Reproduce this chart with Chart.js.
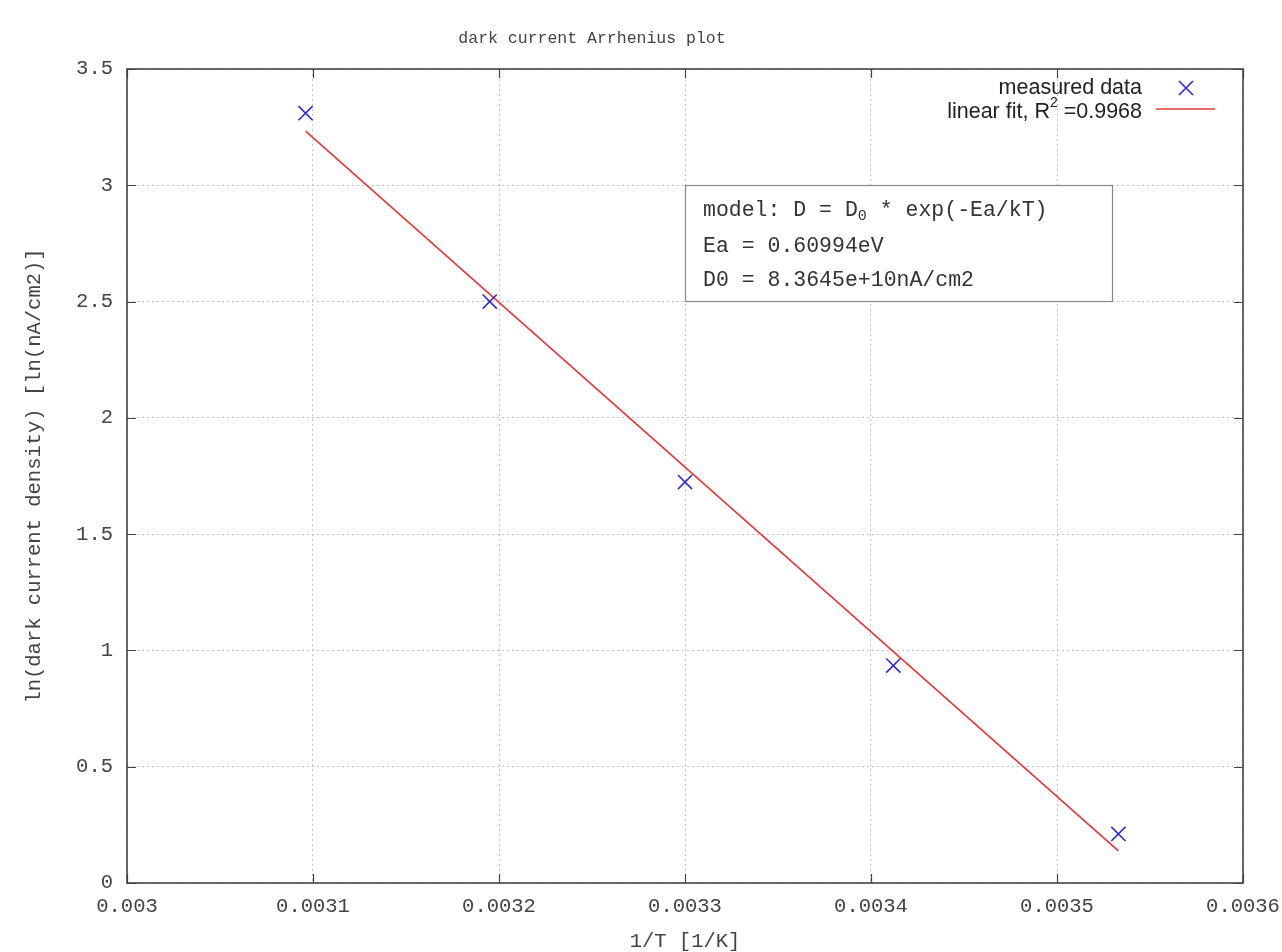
<!DOCTYPE html>
<html>
<head>
<meta charset="utf-8">
<title>dark current Arrhenius plot</title>
<script src="https://cdn.jsdelivr.net/npm/chart.js@4/dist/chart.umd.min.js"></script>
<style>
  html, body { margin: 0; padding: 0; background: #fff; }
  #wrap { width: 1282px; height: 952px; }
</style>
</head>
<body>
<div id="wrap"><canvas id="chart"></canvas></div>
<script>
// measured points (1/T in 1/K, ln of dark current density)
const invT = [0.003096, 0.003195, 0.0033, 0.003412, 0.003533];
const lnD = [3.31, 2.50, 1.724, 0.935, 0.211];

// linear fit, drawn between the first and last 1/T
const fitX = [0.003096, 0.003533];
const fitY = [3.233, 0.138];

const xTicks = [0.003, 0.0031, 0.0032, 0.0033, 0.0034, 0.0035, 0.0036];
const yTicks = [0, 0.5, 1, 1.5, 2, 2.5, 3, 3.5];

const MONO = '"Liberation Mono", "DejaVu Sans Mono", monospace';
const SANS = '"Liberation Sans", Arial, sans-serif';
const TXT = '#444';

// gnuplot style box, mirrored ticks, title, key and label box
const gnuplotBits = {
  id: 'gnuplotBits',
  afterDatasetsDraw(chart) {
    const { ctx, chartArea: a, scales: { x, y } } = chart;
    ctx.save();

    // tick marks on all four sides
    ctx.strokeStyle = '#444';
    ctx.lineWidth = 1.2;
    ctx.beginPath();
    xTicks.forEach(v => {
      const px = Math.round(x.getPixelForValue(v)) + 0.5;
      ctx.moveTo(px, a.bottom); ctx.lineTo(px, a.bottom - 9);
      ctx.moveTo(px, a.top); ctx.lineTo(px, a.top + 9);
    });
    yTicks.forEach(v => {
      const py = Math.round(y.getPixelForValue(v)) + 0.5;
      ctx.moveTo(a.left, py); ctx.lineTo(a.left + 9, py);
      ctx.moveTo(a.right, py); ctx.lineTo(a.right - 9, py);
    });
    ctx.stroke();

    // border
    ctx.lineWidth = 1.6;
    ctx.strokeStyle = '#444';
    ctx.strokeRect(a.left, a.top, a.right - a.left, a.bottom - a.top);

    // title
    ctx.fillStyle = TXT;
    ctx.font = '16.5px ' + MONO;
    ctx.textAlign = 'center';
    ctx.textBaseline = 'middle';
    ctx.fillText('dark current Arrhenius plot', 592, 39);

    // key
    ctx.font = '21.5px ' + SANS;
    ctx.fillStyle = '#222';
    ctx.textAlign = 'right';
    ctx.fillText('measured data', 1142, 88);

    ctx.strokeStyle = '#2b2bd8';
    ctx.lineWidth = 1.6;
    ctx.beginPath();
    ctx.moveTo(1179, 81); ctx.lineTo(1193, 95);
    ctx.moveTo(1193, 81); ctx.lineTo(1179, 95);
    ctx.stroke();

    const tail = ' =0.9968';
    const wTail = ctx.measureText(tail).width;
    ctx.fillText(tail, 1142, 112);
    ctx.font = '14px ' + SANS;
    const wSup = ctx.measureText('2').width;
    ctx.fillText('2', 1142 - wTail, 103);
    ctx.font = '21.5px ' + SANS;
    ctx.fillText('linear fit, R', 1142 - wTail - wSup, 112);

    ctx.strokeStyle = '#e23b3b';
    ctx.lineWidth = 1.6;
    ctx.beginPath();
    ctx.moveTo(1156, 109); ctx.lineTo(1215, 109);
    ctx.stroke();

    // label box
    ctx.fillStyle = '#fff';
    ctx.fillRect(685, 185, 427, 116);
    ctx.strokeStyle = '#888';
    ctx.lineWidth = 1.2;
    ctx.strokeRect(685.5, 185.5, 427, 116);

    ctx.fillStyle = '#333';
    ctx.textAlign = 'left';
    ctx.font = '21.5px ' + MONO;
    const head = 'model: D = D';
    ctx.fillText(head, 703, 210);
    let cx = 703 + ctx.measureText(head).width;
    ctx.font = '15px ' + MONO;
    ctx.fillText('0', cx, 216);
    cx += ctx.measureText('0').width;
    ctx.font = '21.5px ' + MONO;
    ctx.fillText(' * exp(-Ea/kT)', cx, 210);
    ctx.fillText('Ea = 0.60994eV', 703, 246);
    ctx.fillText('D0 = 8.3645e+10nA/cm2', 703, 280);

    ctx.restore();
  }
};

const fmt = v => String(Number(v.toFixed(4)));

new Chart(document.getElementById('chart'), {
  type: 'scatter',
  data: {
    datasets: [
      {
        label: 'linear fit, R2 =0.9968',
        data: fitX.map((v, i) => ({ x: v, y: fitY[i] })),
        showLine: true,
        borderColor: '#e23b3b',
        borderWidth: 1.7,
        pointRadius: 0,
        order: 2
      },
      {
        label: 'measured data',
        data: invT.map((v, i) => ({ x: v, y: lnD[i] })),
        pointStyle: 'crossRot',
        pointRadius: 10,
        borderColor: '#2b2bd8',
        backgroundColor: '#2b2bd8',
        borderWidth: 1.6,
        order: 1
      }
    ]
  },
  options: {
    responsive: true,
    maintainAspectRatio: false,
    animation: false,
    layout: { padding: { left: 0, top: 69, right: 39, bottom: 0 } },
    plugins: {
      legend: { display: false },
      title: { display: false },
      tooltip: { enabled: false }
    },
    scales: {
      x: {
        type: 'linear',
        min: 0.003,
        max: 0.0036,
        afterBuildTicks: s => { s.ticks = xTicks.map(v => ({ value: v })); },
        afterFit: s => { s.height = 69; s.paddingLeft = 0; s.paddingRight = 0; },
        grid: { color: '#c4c4c4', lineWidth: 1, drawTicks: false },
        border: { display: false, dash: [2, 3] },
        ticks: {
          padding: 11,
          color: TXT,
          font: { family: MONO, size: 20.5 },
          maxRotation: 0,
          autoSkip: false,
          callback: v => fmt(v)
        },
        title: {
          display: true,
          text: '1/T [1/K]',
          color: TXT,
          font: { family: MONO, size: 20.5, lineHeight: 1 },
          padding: { top: 0, bottom: 0 }
        }
      },
      y: {
        type: 'linear',
        min: 0,
        max: 3.5,
        afterBuildTicks: s => { s.ticks = yTicks.map(v => ({ value: v })); },
        afterFit: s => { s.width = 127; s.paddingTop = 0; s.paddingBottom = 0; },
        grid: { color: '#c4c4c4', lineWidth: 1, drawTicks: false },
        border: { display: false, dash: [2, 3] },
        ticks: {
          padding: 14,
          color: TXT,
          font: { family: MONO, size: 20.5 },
          autoSkip: false,
          callback: v => fmt(v)
        },
        title: {
          display: true,
          text: 'ln(dark current density) [ln(nA/cm2)]',
          color: TXT,
          font: { family: MONO, size: 20.5, lineHeight: 1 },
          padding: { top: 24, bottom: 0 }
        }
      }
    }
  },
  plugins: [gnuplotBits]
});
</script>
</body>
</html>
